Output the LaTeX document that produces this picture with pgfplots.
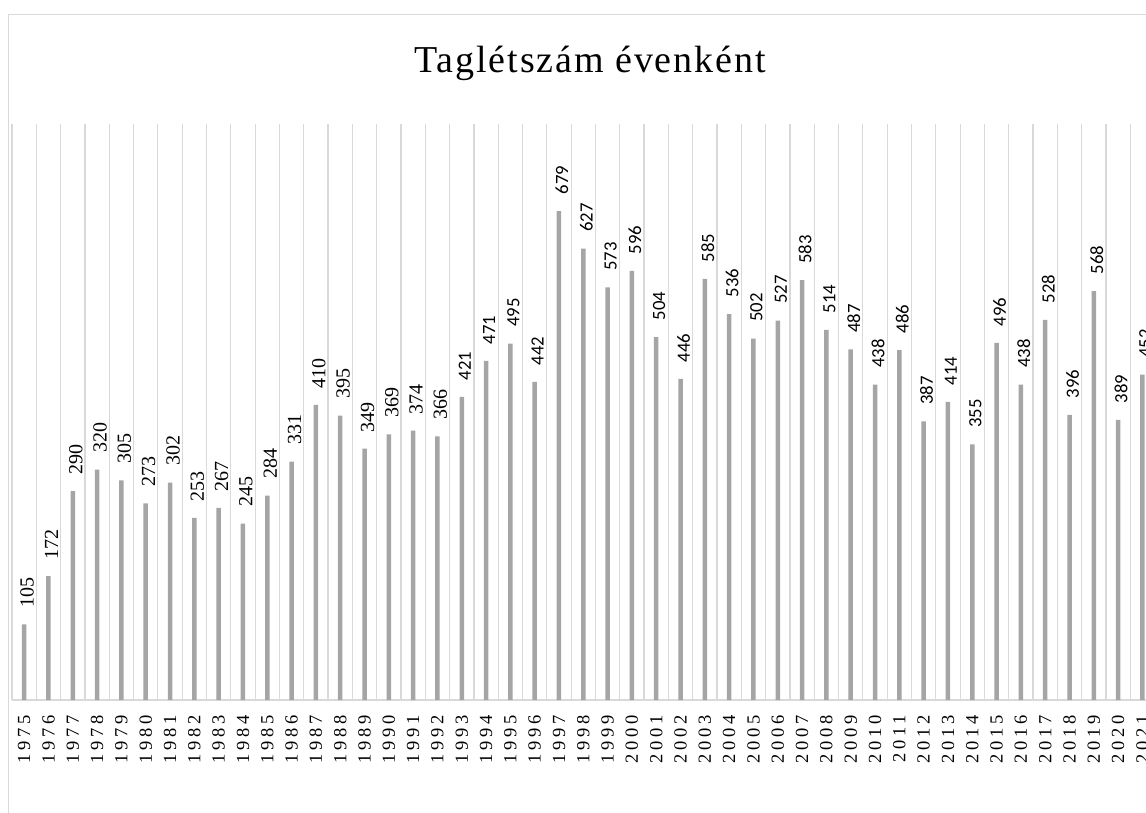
\documentclass[border=0pt]{standalone}
\usepackage{pgfplots}
\pgfplotsset{compat=1.18}
\usepackage{fontspec}
\setmainfont{Liberation Serif}
\newfontfamily\tickfont[LetterSpace=20]{Liberation Serif}
\newfontfamily\titlefont[LetterSpace=5]{Liberation Serif}
\newfontfamily\lblserif{Liberation Serif}
\newfontfamily\lblsans{Carlito}
\definecolor{barc}{HTML}{A5A5A5}
\definecolor{gridc}{HTML}{D9D9D9}
\pgfplotsset{
  basegeom/.style={at={(12pt,112pt)}, anchor=south west,
    scale only axis, width=1142.6pt, height=576pt,
    xmin=-0.5, xmax=46.5, ymin=0, ymax=800, clip=false,
    /pgf/number format/assume math mode=true},
  barstyle/.style={ybar, bar width=4.5pt, bar shift=0pt, fill=barc, draw=none,
    nodes near coords={\pgfmathprintnumber[assume math mode=true]{\pgfplotspointmeta}}},
}
\begin{document}
\begin{tikzpicture}[x=1pt,y=1pt]
\draw[gridc, line width=1.2pt] (8.5,-30) rectangle (1170,797.5);
\node[anchor=base, inner sep=0pt, font=\titlefont\fontsize{38}{44}\selectfont] at (590,739) {Taglétszám évenként};
\begin{axis}[
  basegeom,
  axis x line=bottom, axis y line=none,
  axis line style={gridc, line width=1.2pt, -},
  xtick={0,...,46},
  xticklabels={1975,1976,1977,1978,1979,1980,1981,1982,1983,1984,1985,1986,1987,1988,1989,1990,1991,1992,1993,1994,1995,1996,1997,1998,1999,2000,2001,2002,2003,2004,2005,2006,2007,2008,2009,2010,2011,2012,2013,2014,2015,2016,2017,2018,2019,2020,2021},
  xticklabel style={font=\tickfont\fontsize{18.5}{20}\selectfont, inner sep=0pt, yshift=-15pt, rotate=90, anchor=east},
  minor xtick={-0.5,0.5,...,46.5},
  xminorgrids, xmajorgrids=false,
  minor grid style={gridc, line width=1.2pt},
  major tick length=0pt, minor tick length=0pt,
  every node near coord/.append style={font=\lblserif\fontsize{20}{20}\selectfont, text=black, inner sep=0pt, xshift=3pt, yshift=16.5pt, rotate=90, anchor=west},
]
\addplot[barstyle]
coordinates {(0,105) (1,172) (2,290) (3,320) (4,305) (5,273) (6,302) (7,253) (8,267) (9,245) (10,284) (11,331) (12,410) (13,395) (14,349) (15,369) (16,374) (17,366)};
\end{axis}
\begin{axis}[
  basegeom, hide axis,
  every node near coord/.append style={font=\lblsans\fontsize{18.7}{20}\selectfont, text=black, inner sep=0pt, xshift=3pt, yshift=16.5pt, rotate=90, anchor=west},
]
\addplot[barstyle]
coordinates {(18,421) (19,471) (20,495) (21,442) (22,679) (23,627) (24,573) (25,596) (26,504) (27,446) (28,585) (29,536) (30,502) (31,527) (32,583) (33,514) (34,487) (35,438) (36,486) (37,387) (38,414) (39,355) (40,496) (41,438) (42,528) (43,396) (44,568) (45,389) (46,452)};
\end{axis}
\pgfresetboundingbox
\path[use as bounding box] (0,0) rectangle (1146,812);
\end{tikzpicture}
\end{document}
